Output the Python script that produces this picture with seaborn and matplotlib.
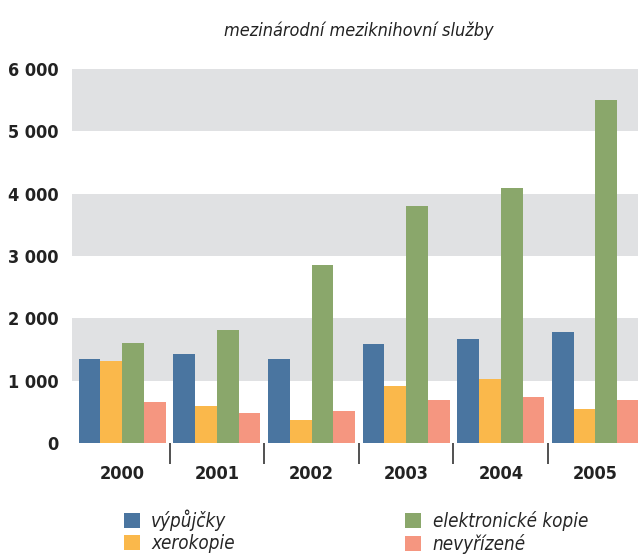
import numpy as np
import pandas as pd
import matplotlib
matplotlib.use('Agg')
import matplotlib.pyplot as plt
from matplotlib.ticker import FixedLocator, FuncFormatter
import seaborn as sns

# data
years = ['2000', '2001', '2002', '2003', '2004', '2005']
series = ['výpůjčky', 'xerokopie', 'elektronické kopie', 'nevyřízené']
vypujcky = [1348, 1429, 1348, 1589, 1669, 1782]
xerokopie = [1316, 594, 369, 915, 1027, 546]
elektronicke = [1605, 1814, 2857, 3804, 4093, 5506]
nevyrizene = [658, 482, 514, 690, 738, 690]

colors = ['#4a75a0', '#fab84b', '#8aa76b', '#f59680']

rows = []
for name, vals in zip(series, [vypujcky, xerokopie, elektronicke, nevyrizene]):
    for y, v in zip(years, vals):
        rows.append({'rok': y, 'typ': name, 'pocet': v})
df = pd.DataFrame(rows)

sns.set_theme(style='white')
plt.rcParams['font.family'] = ['DejaVu Sans']
plt.rcParams['font.stretch'] = 'condensed'

fig = plt.figure(figsize=(6.38, 5.56), dpi=100)
ax = fig.add_axes([0.113, 0.203, 0.887, 0.673])

# grey bands
for lo in [1000, 3000, 5000]:
    ax.axhspan(lo, lo + 1000, color='#e0e1e3', lw=0, zorder=0)

sns.barplot(data=df, x='rok', y='pocet', hue='typ', hue_order=series,
            palette=colors, width=0.92, gap=0, saturation=1, linewidth=0,
            ax=ax, legend=True, zorder=2)

ax.set_ylim(0, 6000)
ax.set_xlim(-0.53, 5.45)
ax.set_xlabel('')
ax.set_ylabel('')
for s in ax.spines.values():
    s.set_visible(False)

ax.yaxis.set_major_locator(FixedLocator([0, 1000, 2000, 3000, 4000, 5000, 6000]))
ax.yaxis.set_major_formatter(FuncFormatter(lambda v, p: f'{int(v):,}'.replace(',', ' ')))
ax.tick_params(axis='y', length=0, pad=10, labelsize=13, labelcolor='#222222')
for t in ax.get_yticklabels():
    t.set_fontweight('bold')

ax.xaxis.set_minor_locator(FixedLocator([0.5, 1.5, 2.5, 3.5, 4.5]))
ax.tick_params(axis='x', which='major', length=0, pad=16, labelsize=13,
               labelcolor='#222222')
ax.tick_params(axis='x', which='minor', bottom=True, direction='out', length=15,
               width=1.2, pad=0, color='#333333')
for t in ax.get_xticklabels():
    t.set_fontweight('bold')

handles, labels = ax.get_legend_handles_labels()
ax.get_legend().remove()
fig.legend(handles, labels, loc='lower left', bbox_to_anchor=(0.168, -0.027),
           ncol=2, frameon=False, columnspacing=9.1, handlelength=0.85,
           handleheight=0.85, handletextpad=0.6, labelspacing=0.15,
           prop={'style': 'italic', 'size': 13.5, 'stretch': 'condensed'})

fig.text(0.563, 0.945, 'mezinárodní meziknihovní služby', ha='center',
         va='center', style='italic', fontsize=13, color='#222222')

fig.savefig('out.png', dpi=100)
